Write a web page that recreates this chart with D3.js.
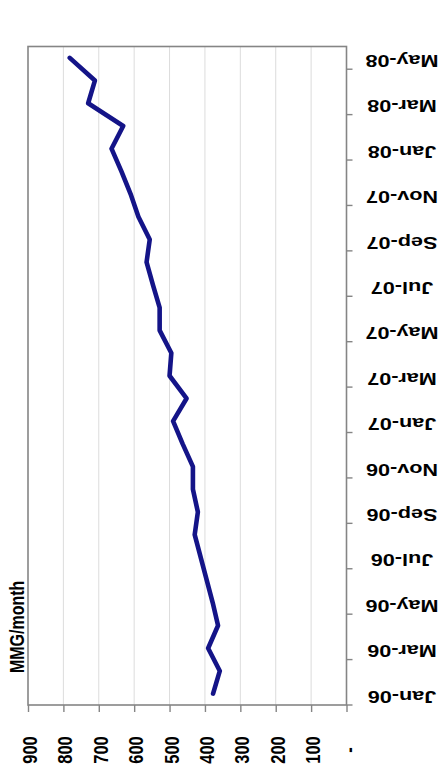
<!DOCTYPE html>
<html>
<head>
<meta charset="utf-8">
<script src="https://cdn.jsdelivr.net/npm/d3@7"></script>
<style>
  html, body { margin: 0; padding: 0; background: #ffffff; }
  svg { display: block; }
  text { font-family: "Liberation Sans", Arial, sans-serif; font-weight: bold; fill: #000; }
</style>
</head>
<body>
<svg id="chart" width="442" height="768"></svg>
<script>
// Monthly volume, Jan-06 through May-08
const months = [
  "Jan-06","Feb-06","Mar-06","Apr-06","May-06","Jun-06","Jul-06","Aug-06",
  "Sep-06","Oct-06","Nov-06","Dec-06","Jan-07","Feb-07","Mar-07","Apr-07",
  "May-07","Jun-07","Jul-07","Aug-07","Sep-07","Oct-07","Nov-07","Dec-07",
  "Jan-08","Feb-08","Mar-08","Apr-08","May-08"
];
const volume = [
  377, 358, 391, 363, 378, 395, 412, 429,
  420, 434, 434, 463, 490, 452, 500, 495,
  528, 528, 547, 565, 556, 588, 610, 636,
  664, 631, 730, 711, 782
];
const valueTicks = [0, 100, 200, 300, 400, 500, 600, 700, 800, 900];
const unitLabel = "MMG/month";

const svg = d3.select("#chart");
const box = { left: 28, right: 346.5, top: 46.5, bottom: 705 };
const stretch = 1.27; // horizontal glyph stretch

// Value axis runs right-to-left along the bottom, months run bottom-to-top
const x = d3.scaleLinear().domain([0, 900]).range([box.right, box.left]);
const y = d3.scaleBand().domain(months).range([box.bottom, box.top]).padding(0);
const step = y.step();

// Gridlines
svg.append("g")
  .selectAll("line")
  .data(valueTicks.filter(v => v > 0 && v < 900))
  .join("line")
  .attr("x1", d => x(d)).attr("x2", d => x(d))
  .attr("y1", box.top).attr("y2", box.bottom)
  .attr("stroke", "#dcdcdc").attr("stroke-width", 1);

// Plot frame
svg.append("rect")
  .attr("x", box.left).attr("y", box.top)
  .attr("width", box.right - box.left).attr("height", box.bottom - box.top)
  .attr("fill", "none").attr("stroke", "#858585").attr("stroke-width", 1.6);

// Value axis (bottom)
const xAxis = svg.append("g")
  .attr("transform", `translate(0,${box.bottom})`)
  .call(d3.axisBottom(x).tickValues(valueTicks).tickSize(7).tickSizeOuter(0)
    .tickFormat(d => d === 0 ? "-" : d3.format("d")(d)));
xAxis.select(".domain").remove();
xAxis.selectAll(".tick line").attr("stroke", "#858585").attr("stroke-width", 1.4);
xAxis.selectAll(".tick text")
  .attr("x", null).attr("y", null).attr("dy", null)
  .attr("text-anchor", "middle")
  .attr("transform", `translate(8.5,45) scale(${stretch},1) rotate(-90)`)
  .style("font-size", "16.5px");

// Month axis (right): tick marks every second month boundary
const tickIdx = d3.range(0, months.length, 2);
svg.append("g")
  .selectAll("line")
  .data(tickIdx)
  .join("line")
  .attr("x1", box.right).attr("x2", box.right + 6)
  .attr("y1", i => y(months[i]) + step).attr("y2", i => y(months[i]) + step)
  .attr("stroke", "#858585").attr("stroke-width", 1.4);

const yAxis = svg.append("g")
  .attr("transform", `translate(${box.right},0)`)
  .call(d3.axisRight(y).tickValues(tickIdx.map(i => months[i])).tickSize(0));
yAxis.select(".domain").remove();
yAxis.selectAll(".tick text")
  .attr("x", null).attr("y", null).attr("dy", null)
  .attr("text-anchor", "middle")
  .attr("transform", `translate(55.5,-3) scale(${stretch},1) rotate(180)`)
  .style("font-size", "17px");

// Series line
const line = d3.line()
  .x(d => x(d.v))
  .y(d => y(d.m) + step / 2);
svg.append("path")
  .datum(months.map((m, i) => ({ m, v: volume[i] })))
  .attr("d", line)
  .attr("fill", "none")
  .attr("stroke", "#141488")
  .attr("stroke-width", 4.6)
  .attr("stroke-linejoin", "round")
  .attr("stroke-linecap", "round");

// Unit label
svg.append("text")
  .attr("text-anchor", "start")
  .attr("transform", `translate(24,673) scale(${stretch},1) rotate(-90)`)
  .style("font-size", "16px")
  .text(unitLabel);
</script>
</body>
</html>
